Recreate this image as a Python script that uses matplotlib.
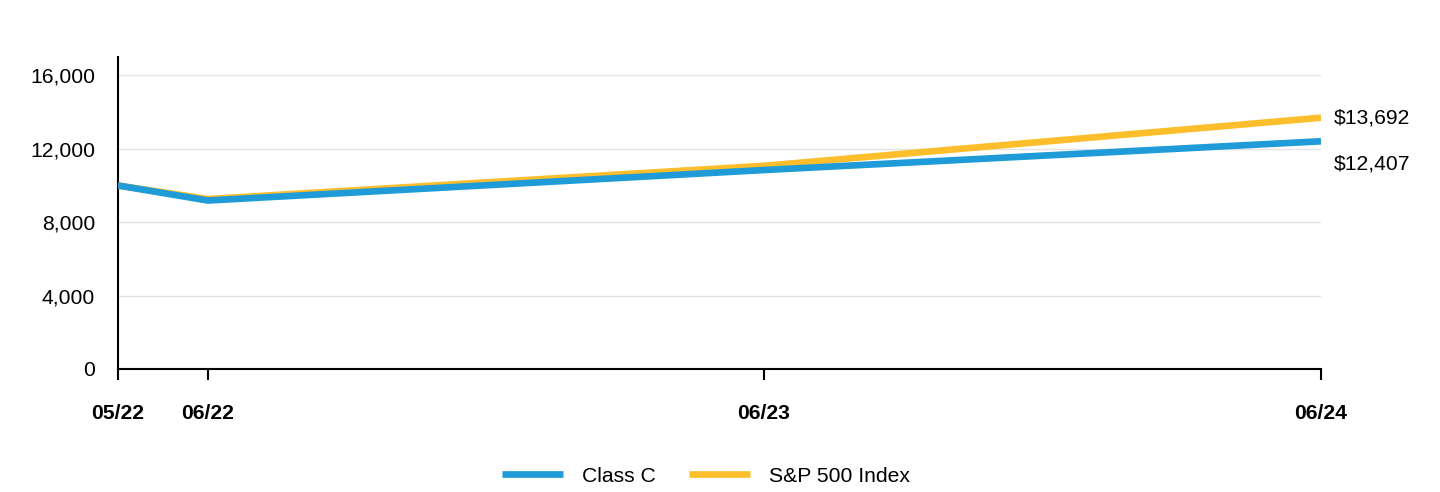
import matplotlib
matplotlib.use("Agg")
import matplotlib.pyplot as plt
import pandas as pd

plt.rcParams['font.family'] = ['Liberation Sans', 'DejaVu Sans']

dates = pd.to_datetime(['2022-05-02', '2022-06-30', '2023-06-30', '2024-06-30'])
tick_labels = ['05/22', '06/22', '06/23', '06/24']
class_c = [10000, 9180, 10840, 12407]
sp500 = [10000, 9260, 11070, 13692]
series_names = ['Class C', 'S&P 500 Index']
colors = ['#1F9BD8', '#FDBE2B']
yticks = [0, 4000, 8000, 12000, 16000]

fs = 15.2
fig = plt.figure(figsize=(14.4, 4.92), dpi=100)
ax = fig.add_axes([118/1440, 1-369/492, (1321-118)/1440, (369-57)/492])

ax.plot(dates, sp500, color=colors[1], lw=4.8, label=series_names[1], solid_capstyle='butt', zorder=3)
ax.plot(dates, class_c, color=colors[0], lw=4.8, label=series_names[0], solid_capstyle='butt', zorder=4)

ax.set_xlim(dates[0], dates[-1])
ax.set_ylim(0, 17000)
ax.set_yticks(yticks)
ax.set_yticklabels([f'{v:,}' for v in yticks], fontsize=fs)
ax.yaxis.grid(True, color='#E3E3E3', lw=1)
ax.set_axisbelow(True)
ax.set_xticks(dates)
ax.set_xticklabels(tick_labels, fontsize=fs, fontweight='bold')
ax.tick_params(axis='x', length=8, width=1.5, pad=17, direction='out')
ax.tick_params(axis='y', left=False, pad=13)
ax.spines['top'].set_visible(False)
ax.spines['right'].set_visible(False)
ax.spines['left'].set_linewidth(1.5)
ax.spines['bottom'].set_linewidth(1.5)

ax.annotate(f'${sp500[-1]:,}', xy=(dates[-1], sp500[-1]), xytext=(9, 0),
            textcoords='offset points', va='center', ha='left', fontsize=fs, annotation_clip=False)
ax.annotate(f'${class_c[-1]:,}', xy=(dates[-1], class_c[-1]), xytext=(9, -16),
            textcoords='offset points', va='center', ha='left', fontsize=fs, annotation_clip=False)

handles, labels = ax.get_legend_handles_labels()
order = [1, 0]
fig.legend([handles[i] for i in order], [labels[i] for i in order], loc='center',
           bbox_to_anchor=(706/1440, 1-476/492), ncol=2, frameon=False, fontsize=fs,
           handlelength=2.9, columnspacing=1.6, handletextpad=0.9)

fig.savefig('out.png', dpi=100)
